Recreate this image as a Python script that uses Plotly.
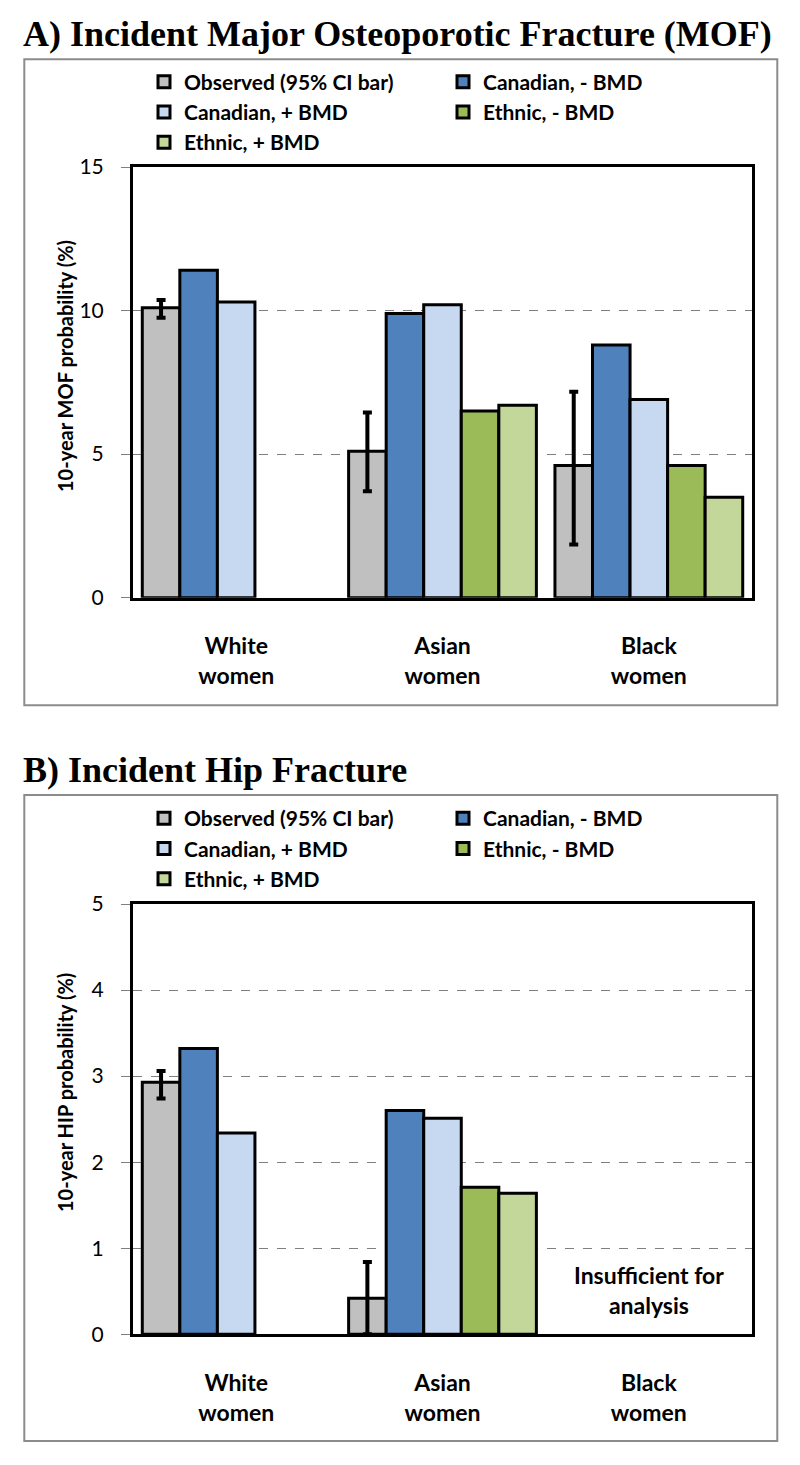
import plotly.graph_objects as go

# page body has an 8px default margin; lay the figure out in page pixels
OFF = 8
W, H = 800 - OFF, 1465 - OFF

categories = ["White women", "Asian women", "Black women"]
category_labels = ["White<br>women", "Asian<br>women", "Black<br>women"]
series_names = ["Observed (95% CI bar)", "Canadian, - BMD", "Canadian, + BMD",
                "Ethnic, - BMD", "Ethnic, + BMD"]
series_colors = ["#C0C0C0", "#4F81BD", "#C6D9F1", "#9BBB59", "#C4D79B"]

# Panel A: 10-year MOF probability (%)
mof_observed = [10.1, 5.1, 4.6]
mof_observed_hi = [10.37, 6.45, 7.17]
mof_observed_lo = [9.75, 3.71, 1.85]
mof_canadian_minus = [11.4, 9.9, 8.8]
mof_canadian_plus = [10.3, 10.2, 6.9]
mof_ethnic_minus = [None, 6.5, 4.6]
mof_ethnic_plus = [None, 6.7, 3.5]

# Panel B: 10-year HIP probability (%)
hip_observed = [2.93, 0.42, None]
hip_observed_hi = [3.06, 0.84, None]
hip_observed_lo = [2.74, 0.0, None]
hip_canadian_minus = [3.32, 2.60, None]
hip_canadian_plus = [2.34, 2.51, None]
hip_ethnic_minus = [None, 1.71, None]
hip_ethnic_plus = [None, 1.64, None]

LABEL_FONT = "Lato"
TITLE_FONT = "Liberation Serif"

fig = go.Figure()


def err(vals, hi, lo):
    plus = [None if v is None else h - v for v, h in zip(vals, hi)]
    minus = [None if v is None else v - l for v, l in zip(vals, lo)]
    return plus, minus


def add_panel(xa, ya, legend, observed, hi, lo, cm, cp, em, ep):
    plus, minus = err(observed, hi, lo)
    data = [observed, cm, cp, em, ep]
    for i, (name, color, vals) in enumerate(zip(series_names, series_colors, data)):
        kw = {}
        if i == 0:
            kw["error_y"] = dict(type="data", symmetric=False, array=plus,
                                 arrayminus=minus, color="black",
                                 thickness=4, width=4.5)
        fig.add_trace(go.Bar(
            x=categories, y=vals, name=name, xaxis=xa, yaxis=ya,
            legend=legend,
            marker=dict(color=color, line=dict(color="black", width=3)),
            **kw))


add_panel("x", "y", "legend", mof_observed, mof_observed_hi, mof_observed_lo,
          mof_canadian_minus, mof_canadian_plus, mof_ethnic_minus, mof_ethnic_plus)
add_panel("x2", "y2", "legend2", hip_observed, hip_observed_hi, hip_observed_lo,
          hip_canadian_minus, hip_canadian_plus, hip_ethnic_minus, hip_ethnic_plus)

# plot area in page pixels
L, R = 133, 752
PW = R - L


def px_x(p):
    return (p - L) / PW


def px_y(p):
    return 1 - (p - OFF) / H


axis_common = dict(showline=True, mirror=True, linecolor="black", linewidth=3)

xaxis_common = dict(axis_common, type="category", categoryorder="array",
                    categoryarray=categories, tickvals=categories,
                    ticktext=category_labels, ticks="", ticklabelstandoff=26,
                    tickfont=dict(family=LABEL_FONT, size=23, color="black",
                                  weight="bold"),
                    showgrid=False)

yaxis_common = dict(axis_common, ticks="outside", ticklen=9, tickwidth=1,
                    tickcolor="#808080", ticklabelstandoff=13,
                    tickfont=dict(family=LABEL_FONT, size=21, color="black"),
                    showgrid=True, gridcolor="#7F7F7F", gridwidth=1,
                    griddash="dash", zeroline=False)

legend_common = dict(orientation="h", xanchor="left", yanchor="top",
                     entrywidth=254, entrywidthmode="pixels",
                     bgcolor="rgba(0,0,0,0)", itemclick=False,
                     itemdoubleclick=False, traceorder="normal",
                     font=dict(family=LABEL_FONT, size=21, color="black",
                               weight="bold"))

fig.update_layout(
    width=W, height=H,
    margin=dict(l=L - OFF, r=W - (R - OFF), t=0, b=0, autoexpand=False),
    paper_bgcolor="white", plot_bgcolor="white",
    barmode="group", bargap=0.09, bargroupgap=0,
    showlegend=True,
    xaxis=dict(xaxis_common, domain=[0, 1], anchor="y"),
    yaxis=dict(yaxis_common, domain=[px_y(597.7), px_y(167)], anchor="x",
               range=[0, 15], dtick=5, tick0=0),
    xaxis2=dict(xaxis_common, domain=[0, 1], anchor="y2"),
    yaxis2=dict(yaxis_common, domain=[px_y(1334.3), px_y(904)], anchor="x2",
                range=[0, 5], dtick=1, tick0=0),
    legend=dict(legend_common, x=px_x(144), y=px_y(61.5)),
    legend2=dict(legend_common, x=px_x(144), y=px_y(798)),
)

# outer frames
for top, bottom in [(59.3, 705.3), (795, 1441)]:
    fig.add_shape(type="rect", xref="paper", yref="paper",
                  x0=px_x(24.3), x1=px_x(777.3), y0=px_y(bottom), y1=px_y(top),
                  line=dict(color="#8C8C8C", width=2), layer="below")

# panel titles
for text, yc in [("A) Incident Major Osteoporotic Fracture (MOF)", 34),
                 ("B) Incident Hip Fracture", 770)]:
    fig.add_annotation(text=f"<b>{text}</b>", xref="paper", yref="paper",
                       x=px_x(21), y=px_y(yc), xanchor="left", yanchor="middle",
                       showarrow=False,
                       font=dict(family=TITLE_FONT, size=36, color="black"))

# y axis titles
for text, yc in [("10-year MOF probability (%)", 366),
                 ("10-year HIP probability (%)", 1093)]:
    fig.add_annotation(text=f"<b>{text}</b>", xref="paper", yref="paper",
                       x=px_x(65), y=px_y(yc), xanchor="center", yanchor="middle",
                       textangle=-90, showarrow=False,
                       font=dict(family=LABEL_FONT, size=20, color="black"))

fig.add_annotation(text="<b>Insufficient for<br>analysis</b>", xref="x2", yref="y2",
                   x="Black women", y=0.51, xanchor="center", yanchor="middle",
                   showarrow=False,
                   font=dict(family=LABEL_FONT, size=23, color="black"))

fig.write_html("out.html")
